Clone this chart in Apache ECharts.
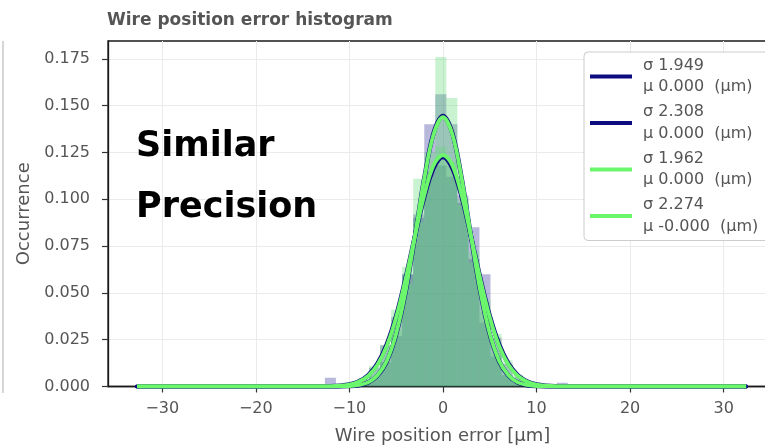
<!DOCTYPE html>
<html><head><meta charset="utf-8">
<script src="https://cdn.jsdelivr.net/npm/echarts@6/dist/echarts.min.js"></script>
<style>html,body{margin:0;padding:0;background:#fff}#c{width:765px;height:448px}</style>
</head><body><div id="c"></div>
<script>
const FONT = 'DejaVu Sans';
const titleText = 'Wire position error histogram';
const xAxisName = 'Wire position error [μm]';
const yAxisName = 'Occurrence';
const overlayLines = ['Similar', 'Precision'];
const xTicks = [-30, -20, -10, 0, 10, 20, 30];
const yTicks = [0, 0.025, 0.05, 0.075, 0.1, 0.125, 0.15, 0.175];
const legendNames = [
  'σ 1.949\nμ 0.000  (μm)',
  'σ 2.308\nμ 0.000  (μm)',
  'σ 1.962\nμ 0.000  (μm)',
  'σ 2.274\nμ -0.000  (μm)'
];
// histogram bin edges (μm)
const binEdges = [-12.62,-11.44,-10.26,-9.08,-7.90,-6.72,-5.54,-4.36,-3.18,-2.00,-0.82,0.36,1.54,2.72,3.90,5.08,6.26,7.44,8.62,9.80,10.98,12.16,13.34];
// histogram densities per bin
const histBlueA  = [0.0047,0,0.0005,0.002,0.005,0.013,0.027,0.060,0.090,0.140,0.156,0.140,0.102,0.068,0.034,0.016,0.006,0.002,0.0005,0,0,0];
const histBlueB  = [0,0.0005,0.0015,0.004,0.010,0.022,0.037,0.060,0.092,0.115,0.118,0.112,0.098,0.085,0.060,0.026,0.012,0.005,0.0025,0.001,0,0.002];
const histGreenA = [0,0.0003,0.001,0.0025,0.006,0.013,0.030,0.055,0.111,0.125,0.176,0.154,0.100,0.066,0.040,0.018,0.006,0.002,0.0008,0.0003,0.001,0];
const histGreenB = [0,0.0006,0.0018,0.0045,0.011,0.022,0.041,0.064,0.088,0.112,0.128,0.120,0.097,0.072,0.046,0.028,0.014,0.006,0.0025,0.0009,0.0003,0];
// fitted curves, sampled
const curveX = [-32.7,-20,-14,-12,-11,-10,-9,-8,-7,-6,-5,-4,-3,-2,-1,0,1,2,3,4,5,6,7,8,9,10,11,12,14,20,32.4];
const curveNavyA  = [0,0,0,0,0,0.0002,0.0007,0.0021,0.0058,0.0135,0.0279,0.0504,0.0799,0.1111,0.1353,0.1445,0.1353,0.1111,0.0799,0.0504,0.0279,0.0135,0.0058,0.0021,0.0007,0.0002,0,0,0,0,0];
const curveNavyB  = [0,0,0,0.0001,0.0004,0.0011,0.0027,0.0060,0.0122,0.0225,0.0377,0.0576,0.0801,0.1013,0.1167,0.1226,0.1167,0.1013,0.0801,0.0576,0.0377,0.0225,0.0122,0.0060,0.0027,0.0011,0.0004,0.0001,0,0,0];
const curveGreenA = [0,0,0,0,0.0001,0.0002,0.0008,0.0022,0.0060,0.0138,0.0283,0.0508,0.0802,0.1110,0.1347,0.1438,0.1347,0.1110,0.0802,0.0508,0.0283,0.0138,0.0060,0.0022,0.0008,0.0002,0.0001,0,0,0,0];
const curveGreenB = [0,0,0,0.0001,0.0004,0.0010,0.0025,0.0056,0.0116,0.0217,0.0370,0.0572,0.0802,0.1022,0.1182,0.1236,0.1182,0.1022,0.0802,0.0572,0.0370,0.0217,0.0116,0.0056,0.0025,0.0010,0.0004,0.0001,0,0,0];

const NAVY = '#0c0c80', LIME = '#6cf66c';
const chart = echarts.init(document.getElementById('c'), null, {renderer: 'canvas'});
function histData(vals) { return vals.map((v, i) => [binEdges[i], binEdges[i + 1], v]); }
function renderHist(params, api) {
  const h = api.value(2);
  if (!h) return null;
  const a = api.coord([api.value(0), h]);
  const b = api.coord([api.value(1), 0]);
  return {type: 'rect', shape: {x: a[0], y: a[1], width: b[0] - a[0], height: b[1] - a[1]},
          style: {fill: api.visual('color')}};
}
function histSeries(vals, color, z) {
  return {type: 'custom', renderItem: renderHist, data: histData(vals), encode: {x: [0, 1], y: 2},
          itemStyle: {color: color}, silent: true, z: z, clip: true};
}
function curveSeries(name, vals, color, width, z, dots) {
  return {type: 'line', name: name, data: curveX.map((x, i) => [x, vals[i]]), smooth: 0.35,
          symbol: dots ? 'circle' : 'none', showSymbol: !!dots, showAllSymbol: true,
          symbolSize: (v) => (Math.abs(v[0]) > 30 ? 4 : 0),
          color: color, lineStyle: {color: color, width: width}, itemStyle: {color: color},
          z: z, silent: true};
}
const txt = {fontFamily: FONT, color: '#555'};
const option = {
  animation: false,
  backgroundColor: '#fff',
  title: {text: titleText, left: 107, top: 12, padding: 0,
          textStyle: {fontFamily: FONT, fontSize: 17, fontWeight: 'bold', color: '#555'}},
  grid: {left: 108, top: 41, right: -12, bottom: 61.5, show: true, borderColor: '#1a1a1a', borderWidth: 1.3,
         outerBoundsMode: 'none', containLabel: false},
  legend: {data: legendNames, orient: 'vertical', left: 584, top: 52, icon: 'rect',
           itemWidth: 42, itemHeight: 4, itemGap: 3.5,
           textStyle: {fontFamily: FONT, fontSize: 16, color: '#555', lineHeight: 21.5, padding: [0, 0, 0, 6]},
           backgroundColor: '#fff', borderColor: '#cccccc', borderWidth: 1, borderRadius: 4, padding: [3, 30, 3, 6]},
  xAxis: {type: 'value', min: -35.8, max: 35.7, name: xAxisName, nameLocation: 'middle', nameGap: 41,
          nameTextStyle: Object.assign({fontSize: 18}, txt),
          axisLine: {show: true, onZero: false, lineStyle: {color: '#1a1a1a', width: 1.3}},
          axisTick: {show: true, customValues: xTicks, length: 6, lineStyle: {color: '#333', width: 1.2}},
          axisLabel: Object.assign({customValues: xTicks, fontSize: 16, margin: 14,
                       formatter: (v) => (v < 0 ? '\u2212' + Math.abs(v) : String(v))}, txt),
          splitLine: {show: true, lineStyle: {color: '#ebebeb', width: 1}}},
  yAxis: {type: 'value', min: 0, max: 0.1845, name: yAxisName, nameLocation: 'middle', nameGap: 74, nameRotate: 90,
          nameTextStyle: Object.assign({fontSize: 18}, txt),
          axisLine: {show: true, onZero: false, lineStyle: {color: '#1a1a1a', width: 1.3}},
          axisTick: {show: true, customValues: yTicks, length: 6, lineStyle: {color: '#333', width: 1.2}},
          axisLabel: Object.assign({customValues: yTicks, fontSize: 16, margin: 18,
                       formatter: (v) => v.toFixed(3)}, txt),
          splitLine: {show: true, lineStyle: {color: '#ebebeb', width: 1}}},
  graphic: [
    {type: 'line', shape: {x1: 3, y1: 41, x2: 3, y2: 393}, style: {stroke: '#c8c8c8', lineWidth: 1.5}},
    {type: 'text', x: 136, y: 147, z: 100, style: {text: overlayLines[0], font: 'bold 35px "DejaVu Sans"', fill: '#000', verticalAlign: 'middle'}},
    {type: 'text', x: 136, y: 208, z: 100, style: {text: overlayLines[1], font: 'bold 35px "DejaVu Sans"', fill: '#000', verticalAlign: 'middle'}}
  ],
  series: [
    histSeries(histBlueA, 'rgba(0,0,128,0.28)', 1),
    histSeries(histBlueB, 'rgba(0,0,128,0.28)', 2),
    histSeries(histGreenA, 'rgba(100,220,120,0.35)', 3),
    histSeries(histGreenB, 'rgba(100,220,120,0.35)', 4),
    curveSeries(legendNames[0], curveNavyA, NAVY, 4.5, 5, true),
    curveSeries(legendNames[1], curveNavyB, NAVY, 4.5, 6, true),
    curveSeries(legendNames[2], curveGreenA, LIME, 3.8, 7, false),
    curveSeries(legendNames[3], curveGreenB, LIME, 3.8, 8, false)
  ]
};
chart.setOption(option);
</script></body></html>
